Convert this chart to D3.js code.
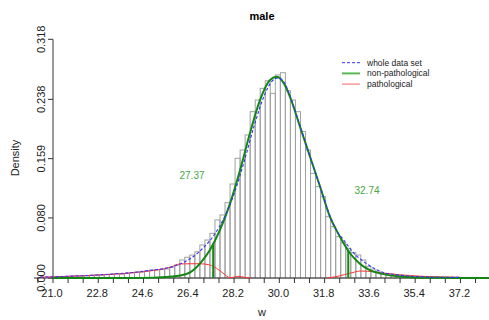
<!DOCTYPE html>
<html><head><meta charset="utf-8">
<script src="https://cdn.jsdelivr.net/npm/d3@7"></script>
<style>body{margin:0;background:#fff}svg{display:block;font-family:Arial,"Liberation Sans",sans-serif}</style>
</head><body><div id="chart"></div>
<script>
// ---- data ----
const binWidth = 0.2;
const binStarts = d3.range(0, 80).map(i => +(21 + i * binWidth).toFixed(1));
const binDensity = [
  0.0015,0.002,0.002,0.0025,0.003,0.0025,0.003,0.0035,0.004,0.004,
  0.0045,0.005,0.006,0.005,0.006,0.007,0.008,0.008,0.0095,0.0105,
  0.011,0.0115,0.012,0.0143,0.0173,0.024,0.0276,0.0306,0.035,0.044,
  0.0506,0.0595,0.0773,0.084,0.1003,0.1252,0.1595,0.1705,0.1905,0.2216,
  0.2371,0.2527,0.2628,0.246,0.2705,0.2735,0.2495,0.2371,0.2216,0.195,
  0.1705,0.1394,0.1217,0.1084,0.0817,0.0684,0.0551,0.0471,0.0396,0.0337,
  0.0306,0.024,0.0151,0.0107,0.008,0.006,0.005,0.004,0.0035,0.003,
  0.0025,0.002,0.002,0.0015,0.0015,0.001,0.0012,0.001,0.001,0.0008
];
const wholeX = [20.5,21,21.5,22,22.5,23,23.5,24,24.5,25,25.4,25.8,26.2,26.6,27,27.4,27.8,28.2,28.6,29,29.4,29.7,29.95,30.2,30.42,30.82,31.22,31.62,32.01,32.3,32.56,32.96,33.36,33.76,34.16,34.56,35.1,35.76,36.7,37.2];
const wholeY = [0.0013,0.0016,0.0022,0.0028,0.0035,0.0045,0.0056,0.0068,0.0085,0.0108,0.0125,0.0155,0.021,0.029,0.041,0.057,0.08,0.112,0.155,0.203,0.243,0.262,0.2665,0.26,0.243,0.203,0.1616,0.122,0.083,0.062,0.0506,0.033,0.0217,0.0129,0.0071,0.0049,0.0027,0.0013,0.0009,0.0008];
const nonpathX = [21,23,24,25,25.65,26.05,26.45,26.85,27.24,27.64,28.04,28.44,28.83,29.23,29.63,29.9,30.2,30.42,30.82,31.22,31.62,32.01,32.41,32.81,33.2,33.6,34.0,34.4,34.8,35.4,36,37,38.6];
const nonpathY = [0,0,0.0001,0.0005,0.0017,0.0032,0.0075,0.0196,0.0373,0.064,0.0995,0.1439,0.1928,0.2371,0.2638,0.268,0.258,0.2416,0.2016,0.1616,0.1216,0.0817,0.055,0.033,0.019,0.0105,0.0062,0.0035,0.002,0.0008,0.0003,0.0001,0];
// pathological density: left and right pieces (zero in between)
const pathLeftX = [20.5,21,22,23,24,24.6,25.2,25.65,26.05,26.45,26.85,27.24,27.5,27.77,28.04,28.2,28.35,28.5,28.7,28.85];
const pathLeftY = [0.0012,0.0015,0.0027,0.0043,0.0065,0.0085,0.011,0.0143,0.0187,0.019,0.019,0.0173,0.013,0.0062,0.0005,0.0012,0.0022,0.0018,0.0003,0];
const pathRightX = [31.9,32.2,32.6,33.0,33.2,33.5,33.9,34.3,34.7,35.2,35.8,36.5,37.2];
const pathRightY = [0,0.0015,0.0045,0.008,0.0093,0.009,0.0075,0.006,0.0045,0.0033,0.002,0.0013,0.001];
const cutoffs = [27.37, 32.74];
const cutoffLabels = ["27.37", "32.74"];
const xTickValues = d3.range(0, 30).map(i => +(20.4 + i * 0.6).toFixed(1));
const xLabelValues = [21.0, 22.8, 24.6, 26.4, 28.2, 30.0, 31.8, 33.6, 35.4, 37.2];
const yTickValues = [0.000, 0.080, 0.159, 0.238, 0.318];
const yTickLabels = ["0.000", "0.080", "0.159", "0.238", "0.318"];
const legendLabels = ["whole data set", "non-pathological", "pathological"];
const legendColors = ["#3333ff", "#22a022", "#ff3333"];

// ---- drawing ----
const W = 489, H = 320;
const svg = d3.select("#chart").append("svg").attr("width", W).attr("height", H);
const x = d3.scaleLinear().domain([21, 37.8]).range([53, 53 + 16.8 * 25.15]);
const y = d3.scaleLinear().domain([0, 0.318]).range([278, 39.3]);

// histogram
svg.append("g").selectAll("rect").data(binStarts).join("rect")
  .attr("x", (d) => x(d) + 1)
  .attr("width", x(21 + binWidth) - x(21))
  .attr("y", (d, i) => y(binDensity[i]))
  .attr("height", (d, i) => y(0) - y(binDensity[i]))
  .attr("fill", "none").attr("stroke", "#a0a0a0").attr("stroke-width", 1);

const line = (xs, ys) => d3.line().x((d, i) => x(xs[i])).y((d, i) => y(ys[i])).curve(d3.curveMonotoneX)(xs);

// axes
const xAxis = svg.append("g").attr("transform", `translate(0,${y(0)})`);
xAxis.append("line").attr("x1", 34).attr("x2", W).attr("stroke", "#333");
xAxis.selectAll("line.t").data(xTickValues).join("line").attr("class", "t")
  .attr("x1", d => x(d)).attr("x2", d => x(d)).attr("y1", 0).attr("y2", 5).attr("stroke", "#333");
xAxis.selectAll("text").data(xLabelValues).join("text")
  .attr("x", d => x(d) - 1).attr("y", 19).attr("text-anchor", "middle")
  .attr("font-size", 11).attr("fill", "#222").text(d => d.toFixed(1));

const yAxis = svg.append("g");
yAxis.append("line").attr("x1", 53).attr("x2", 53).attr("y1", y(0.318)).attr("y2", y(0)).attr("stroke", "#333");
yAxis.selectAll("line.t").data(yTickValues).join("line").attr("class", "t")
  .attr("x1", 48).attr("x2", 53).attr("y1", d => y(d)).attr("y2", d => y(d)).attr("stroke", "#333");
yAxis.selectAll("text").data(yTickValues).join("text")
  .attr("transform", d => `translate(45,${y(d)}) rotate(-90)`)
  .attr("text-anchor", "middle").attr("font-size", 11).attr("fill", "#222")
  .text((d, i) => yTickLabels[i]);

// curves
svg.append("path").attr("d", line(pathLeftX, pathLeftY)).attr("fill", "none").attr("stroke", legendColors[2]).attr("stroke-width", 1);
svg.append("path").attr("d", line(pathRightX, pathRightY)).attr("fill", "none").attr("stroke", legendColors[2]).attr("stroke-width", 1);
svg.append("path").attr("d", line(nonpathX, nonpathY)).attr("fill", "none").attr("stroke", "#118811").attr("stroke-width", 2);
svg.append("path").attr("d", line(wholeX, wholeY)).attr("fill", "none").attr("stroke", legendColors[0]).attr("stroke-width", 1.1).attr("stroke-dasharray", "3,2");

// cutoff lines: height from the non-pathological curve
const interp = (xs, ys, v) => { const i = d3.bisectLeft(xs, v); const t = (v - xs[i-1]) / (xs[i] - xs[i-1]); return ys[i-1] + t * (ys[i] - ys[i-1]); };
svg.selectAll("line.cut").data(cutoffs).join("line").attr("class", "cut")
  .attr("x1", d => x(d)).attr("x2", d => x(d)).attr("y1", y(0)).attr("y2", d => y(interp(nonpathX, nonpathY, d)))
  .attr("stroke", "#118811").attr("stroke-width", 2);
svg.selectAll("text.cut").data(cutoffs).join("text").attr("class", "cut")
  .attr("x", (d, i) => i === 0 ? 192 : 367).attr("y", (d, i) => i === 0 ? 179 : 194)
  .attr("text-anchor", "middle").attr("font-size", 10).attr("fill", "#44aa44").text((d, i) => cutoffLabels[i]);

// titles
svg.append("text").attr("x", 262).attr("y", 20).attr("text-anchor", "middle").attr("font-size", 11).attr("font-weight", "bold").text("male");
svg.append("text").attr("x", 262).attr("y", 316).attr("text-anchor", "middle").attr("font-size", 11).attr("fill", "#222").text("w");
svg.append("text").attr("transform", "translate(19,158) rotate(-90)").attr("text-anchor", "middle").attr("font-size", 11).attr("fill", "#222").text("Density");

// legend
const lg = svg.append("g");
legendLabels.forEach((lab, i) => {
  const yy = 62.7 + i * 10.7;
  lg.append("line").attr("x1", 342).attr("x2", 360).attr("y1", yy).attr("y2", yy)
    .attr("stroke", legendColors[i]).attr("stroke-width", i === 1 ? 2 : 1)
    .attr("stroke-dasharray", i === 0 ? "3,2" : null).attr("opacity", i === 0 ? 1 : 0.75);
  lg.append("text").attr("x", 367).attr("y", yy + 3).attr("font-size", 8.5).attr("fill", "#222").text(lab);
});
</script></body></html>
